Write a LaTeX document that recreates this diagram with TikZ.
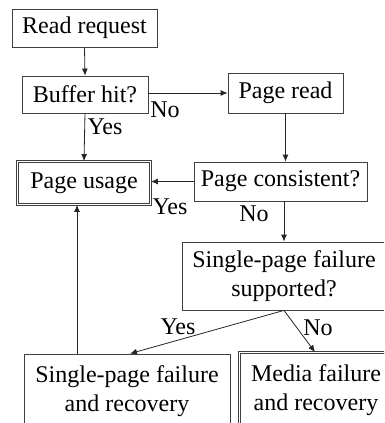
\documentclass[tikz,border=0pt]{standalone}
\usepackage{fontspec}
\setmainfont{Liberation Serif}
\usetikzlibrary{arrows.meta}
\begin{document}
\begin{tikzpicture}[x=1pt,y=-1pt,
  box/.style={draw=black!75,line width=0.8pt,fill=white,inner sep=0pt,align=center,font=\fontsize{24}{29}\selectfont},
  dbox/.style={box,double=white,double distance=1.6pt},
  lbl/.style={inner sep=0pt,font=\fontsize{24}{29}\selectfont},
  arr/.style={draw=black!85,line width=0.8pt,-{Latex[length=7pt,width=6pt]}}]
\useasboundingbox (0,0) rectangle (384,423);
\clip (0,0) rectangle (384,423);
\node[box,minimum width=145pt,minimum height=38pt] (rr) at (84.5,28) {Read request};
\node[box,minimum width=126pt,minimum height=37pt] (bh) at (85,94.5) {Buffer hit?};
\node[box,minimum width=115pt,minimum height=40pt] (pr) at (285.5,93) {Page read};
\node[dbox,minimum width=133pt,minimum height=43pt] (pu) at (84,183) {Page usage};
\node[box,minimum width=173pt,minimum height=39pt] (pc) at (280.5,181.5) {Page consistent?};
\node[box,minimum width=204pt,minimum height=68pt] (sp) at (284,276) {Single-page failure\\supported?};
\node[box,minimum width=206pt,minimum height=75pt] (sr) at (127,391.5) {Single-page failure\\and recovery};
\node[dbox,minimum width=153pt,minimum height=75pt] (mf) at (316,390) {Media failure\\and recovery};
\draw[arr] (rr.south) -- (bh.north);
\draw[arr] (bh.east |- pr.west) -- (pr.west);
\draw[arr] (bh.south) -- (pu.north);
\draw[arr] (pr.south) -- (pr.south |- pc.north);
\draw[arr] (pc.west) -- (pc.west -| pu.east);
\draw[arr] (pc.south -| sp.north) -- (sp.north);
\draw[arr] (sp.south) -- ([xshift=3pt]sr.north);
\draw[arr] (sp.south) -- ([xshift=-1pt]mf.north);
\draw[arr] ([xshift=-50pt]sr.north) -- ([xshift=-50pt]sr.north |- pu.south);
\node[lbl] (l1) at (165,110) {No};
\node[lbl] (l2) at (105,127) {Yes};
\node[lbl] (l3) at (170,207) {Yes};
\node[lbl] (l4) at (254,214) {No};
\node[lbl] (l5) at (178,327) {Yes};
\node[lbl] (l6) at (318,328) {No};
\end{tikzpicture}
\end{document}
